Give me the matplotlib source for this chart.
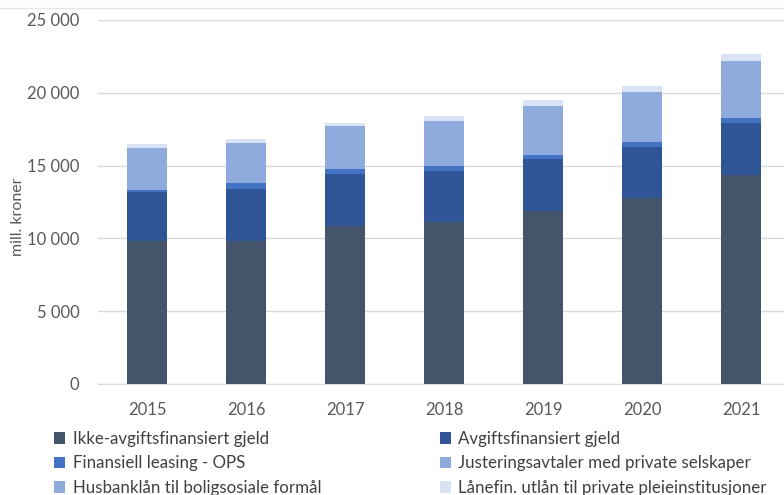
import matplotlib
matplotlib.use("Agg")
import matplotlib.pyplot as plt
from matplotlib.ticker import FuncFormatter
from matplotlib.lines import Line2D
from matplotlib.patches import Patch
import numpy as np

years = ["2015", "2016", "2017", "2018", "2019", "2020", "2021"]
ikke_avgift = [9800, 9850, 10850, 11150, 11850, 12750, 14350]
avgift = [3400, 3550, 3550, 3500, 3580, 3550, 3600]
leasing = [130, 390, 350, 330, 300, 300, 300]
justering = [0, 0, 0, 0, 0, 0, 0]
husbank = [2860, 2750, 2950, 3110, 3370, 3440, 3940]
lanefin = [280, 270, 250, 340, 410, 450, 480]

series = [
    ("Ikke-avgiftsfinansiert gjeld", ikke_avgift, "#44546a"),
    ("Avgiftsfinansiert gjeld", avgift, "#2f5597"),
    ("Finansiell leasing - OPS", leasing, "#4472c4"),
    ("Justeringsavtaler med private selskaper", justering, "#8eaadb"),
    ("Husbanklån til boligsosiale formål", husbank, "#8faadc"),
    ("Lånefin. utlån til private pleieinstitusjoner", lanefin, "#dae3f3"),
]

plt.rcParams['font.family'] = ['Lato', 'DejaVu Sans']

fig = plt.figure(figsize=(7.84, 4.95), dpi=100)
ax = fig.add_axes([97.5 / 784, (495 - 384) / 495, (790.5 - 97.5) / 784, (384 - 20) / 495])

x = np.arange(len(years))
bottom = np.zeros(len(years))
for name, vals, col in series:
    v = np.array(vals, dtype=float)
    ax.bar(x, v, bottom=bottom, width=0.4, color=col, zorder=3, label=name)
    bottom += v

ax.set_xlim(-0.5, len(years) - 0.5)
ax.set_ylim(0, 25000)
ax.set_yticks(np.arange(0, 25001, 5000))
ax.yaxis.set_major_formatter(FuncFormatter(lambda v, p: f"{int(v):,}".replace(",", " ")))
ax.set_xticks(x)
ax.set_xticklabels(years)
ax.grid(axis='y', color='#d9d9d9', linewidth=1, zorder=0)
for s in ['top', 'right', 'left']:
    ax.spines[s].set_visible(False)
ax.spines['bottom'].set_color('#d9d9d9')
ax.tick_params(axis='both', length=0, colors='#595959', labelsize=12)
ax.tick_params(axis='x', pad=13)
ax.tick_params(axis='y', pad=13)
ax.set_ylabel("mill. kroner", color='#595959', fontsize=11.5)
ax.yaxis.set_label_coords((25 - 97.5) / 693, 0.46)

hs = [Patch(facecolor=c, edgecolor='none') for _, _, c in series]
labels = [n for n, _, _ in series]
order = [0, 2, 4, 1, 3, 5]
leg = fig.legend([hs[i] for i in order], [labels[i] for i in order], ncol=2,
                 loc='upper left', bbox_to_anchor=(54 / 784, 1 - 431 / 495), frameon=False,
                 borderpad=0, borderaxespad=0,
                 fontsize=12.2, handlelength=0.65, handleheight=0.65, handletextpad=0.45,
                 columnspacing=7.0, labelspacing=0.5, labelcolor='#404040')

fig.add_artist(Line2D([0, 1], [1 - 8 / 495, 1 - 8 / 495], color='#e6e6e6', linewidth=1, transform=fig.transFigure))

fig.savefig("out.png", dpi=100)
